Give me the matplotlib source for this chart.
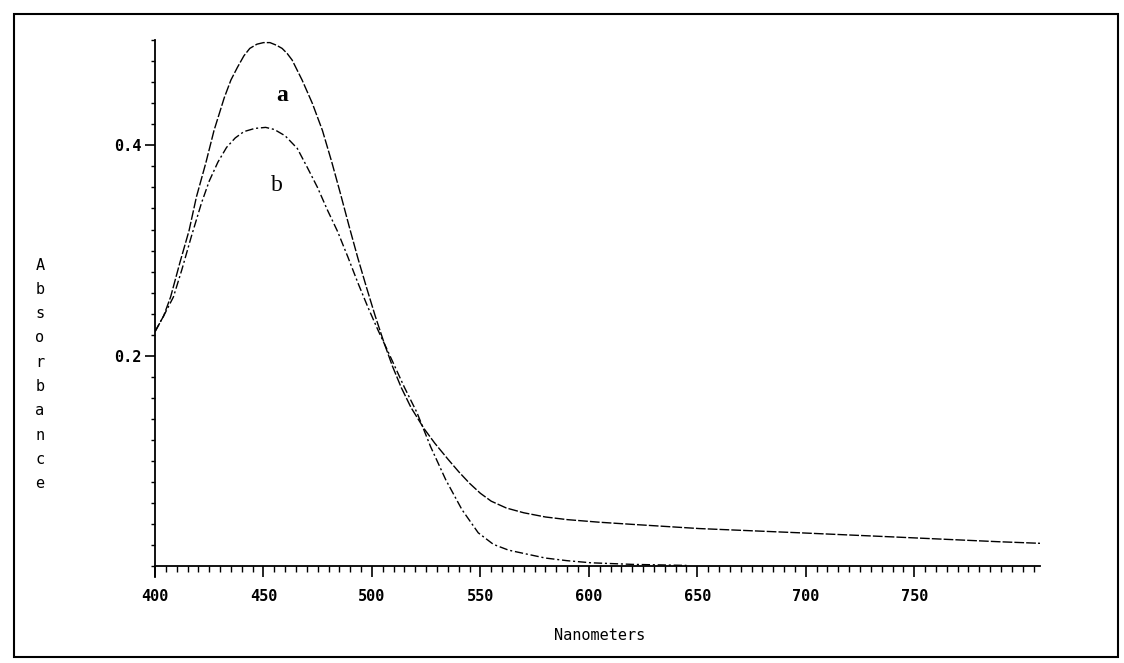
import matplotlib.pyplot as plt
from matplotlib.patches import Rectangle
from matplotlib.ticker import FixedLocator, MultipleLocator

# spectrum a (upper peak)
wl_a = [400, 404, 407.2, 411.4, 415.7, 419.1, 423.4, 427.2, 431.9, 435, 438, 441, 443.7,
        447, 450, 453, 456, 458.6, 461, 463.2, 467.8, 472.5, 477.2, 481.5, 485.5, 489.5,
        493.5, 497.5, 501.5, 505.5, 509.5, 513.5, 518, 524, 529, 535, 540, 545, 550, 555,
        562, 570, 580, 590, 605, 620, 651, 697, 741, 789, 808]
abs_a = [0.223, 0.238, 0.256, 0.288, 0.319, 0.351, 0.383, 0.414, 0.445, 0.462, 0.474, 0.485, 0.492,
         0.496, 0.4975, 0.4975, 0.495, 0.492, 0.487, 0.481, 0.462, 0.440, 0.414, 0.384, 0.354, 0.323,
         0.293, 0.265, 0.238, 0.213, 0.190, 0.170, 0.151, 0.131, 0.117, 0.102, 0.090, 0.079, 0.0695, 0.062,
         0.0555, 0.051, 0.047, 0.0445, 0.042, 0.040, 0.036, 0.032, 0.028, 0.0235, 0.022]

# spectrum b (lower peak)
wl_b = [400, 404, 408.5, 412.4, 416.7, 421.4, 425, 429, 433, 437, 441, 446, 451, 455, 460,
        465.6, 470.2, 474.9, 479.6, 484.2, 488.9, 493.6, 498.2, 502.9, 507, 511, 515, 520.8,
        527, 534, 541.5, 549, 556, 563, 572, 580, 590, 601, 620, 645]
abs_b = [0.223, 0.238, 0.256, 0.282, 0.313, 0.345, 0.366, 0.384, 0.398, 0.407, 0.413, 0.416, 0.417,
         0.415, 0.409, 0.397, 0.379, 0.360, 0.338, 0.318, 0.294, 0.269, 0.246, 0.224, 0.206, 0.188,
         0.170, 0.146, 0.114, 0.0825, 0.054, 0.032, 0.021, 0.0155, 0.0115, 0.008, 0.0055, 0.0035,
         0.002, 0.001]

x_major = [400, 450, 500, 550, 600, 650, 700, 750]
y_major = [0.2, 0.4]
ylabel_letters = "Absorbance"

fig = plt.figure(figsize=(11.24, 6.63), dpi=100)
ax = fig.add_axes([0.1379, 0.1297, 0.7874, 0.810])

ax.plot(wl_a, abs_a, color='black', lw=1.0, linestyle=(0, (7, 1.5)))
ax.plot(wl_b, abs_b, color='black', lw=1.0, linestyle=(0, (6, 2, 1.5, 2)))

ax.set_xlim(400, 808)
ax.set_ylim(-0.01, 0.5)

# axes look like the old instrument printout
ax.spines['top'].set_visible(False)
ax.spines['right'].set_visible(False)
ax.spines['bottom'].set_position(('data', 0))
ax.spines['left'].set_linewidth(1.3)
ax.spines['bottom'].set_linewidth(1.3)

ax.xaxis.set_major_locator(FixedLocator(x_major))
ax.xaxis.set_minor_locator(MultipleLocator(5))
ax.yaxis.set_major_locator(FixedLocator(y_major))
ax.yaxis.set_minor_locator(MultipleLocator(0.02))
ax.set_xticklabels([str(v) for v in x_major])
ax.set_yticklabels([str(v) for v in y_major])

ax.tick_params(axis='x', which='major', direction='out', length=8, width=1.2, pad=8)
ax.tick_params(axis='x', which='minor', direction='out', length=4, width=1.0)
ax.tick_params(axis='y', which='major', direction='out', length=7, width=1.2, pad=3)
ax.tick_params(axis='y', which='minor', direction='out', length=3, width=1.0)
for lab in ax.get_xticklabels() + ax.get_yticklabels():
    lab.set_fontfamily('DejaVu Sans Mono')
    lab.set_fontweight('bold')
    lab.set_fontsize(11)

ax.text(458.5, 0.447, 'a', fontsize=17, fontweight='bold', family='Liberation Serif',
        ha='center', va='center')
ax.text(456, 0.362, 'b', fontsize=17, family='Liberation Serif', ha='center', va='center')

# vertical stacked y label
for i, ch in enumerate(ylabel_letters):
    fig.text(40 / 1124, 1 - (265 + i * 24.3) / 663, ch, family='DejaVu Sans Mono',
             fontsize=11, ha='center', va='center')

fig.text(600 / 1124, 1 - 636 / 663, 'Nanometers', family='DejaVu Sans Mono',
         fontsize=11, ha='center', va='center')

fig.patches.append(Rectangle((14 / 1124, 1 - 657 / 663), 1104 / 1124, 643 / 663,
                             transform=fig.transFigure, fill=False, lw=1.5, color='black'))

fig.savefig('out.png', dpi=100)
